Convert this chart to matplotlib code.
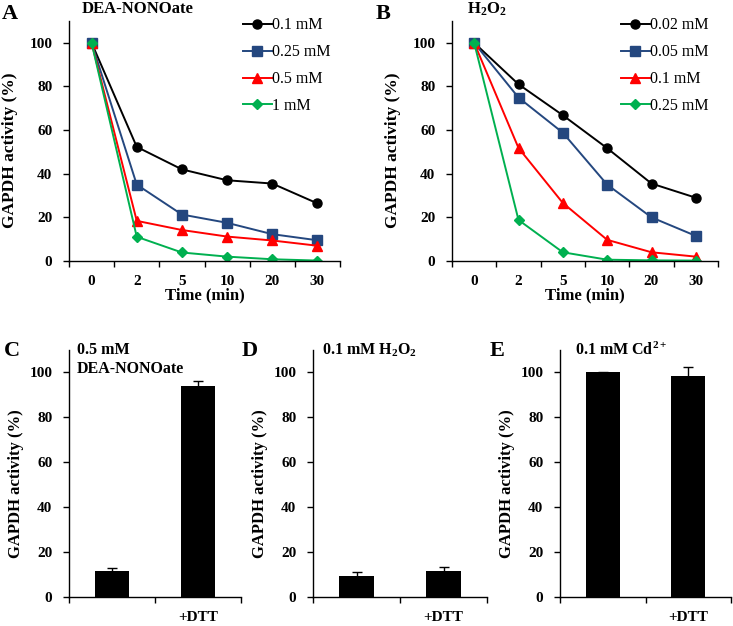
import numpy as np
import matplotlib
matplotlib.use("Agg")
import matplotlib.pyplot as plt

plt.rcParams['font.family'] = 'Liberation Serif'
plt.rcParams['font.weight'] = 'bold'
plt.rcParams['mathtext.fontset'] = 'custom'
plt.rcParams['mathtext.rm'] = 'Liberation Serif:bold'
plt.rcParams['mathtext.it'] = 'Liberation Serif:bold'
plt.rcParams['mathtext.bf'] = 'Liberation Serif:bold'
plt.rcParams['mathtext.default'] = 'rm'

# time course data
time_labels = ['0', '2', '5', '10', '20', '30']

nono_labels = ['0.1 mM', '0.25 mM', '0.5 mM', '1 mM']
nono_01 = [100, 52.3, 42.0, 37.0, 35.5, 26.4]
nono_025 = [100, 35.0, 21.3, 17.5, 12.3, 9.5]
nono_05 = [100, 18.4, 14.2, 11.2, 9.4, 7.0]
nono_1 = [100, 11.1, 3.9, 2.0, 0.8, 0.2]

h2o2_labels = ['0.02 mM', '0.05 mM', '0.1 mM', '0.25 mM']
h2o2_002 = [100, 81.0, 66.8, 51.7, 35.5, 29.0]
h2o2_005 = [100, 74.9, 58.8, 35.0, 20.0, 11.5]
h2o2_01 = [100, 51.8, 26.6, 9.7, 4.0, 2.0]
h2o2_025 = [100, 18.8, 4.0, 0.6, 0.3, 0.2]

# DTT rescue bars
bar_labels = ['', '+DTT']
nono_bar = [11.5, 94.0]
nono_err = [1.6, 2.2]
h2o2_bar = [9.5, 11.4]
h2o2_err = [1.6, 1.8]
cd_bar = [100.0, 98.6]
cd_err = [0.4, 3.8]

colors = ['black', '#24477f', '#ff0000', '#00b050']
markers = ['o', 's', '^', 'D']
msizes = [6.5, 6.5, 7.5, 5.5]

W, H = 733, 626
fig = plt.figure(figsize=(W / 100, H / 100), dpi=100)


def px_axes(l, t, r, b):
    return fig.add_axes([l / W, 1 - b / H, (r - l) / W, (b - t) / H])


def style(ax):
    ax.spines['top'].set_visible(False)
    ax.spines['right'].set_visible(False)
    ax.spines['left'].set_linewidth(1.0)
    ax.spines['bottom'].set_linewidth(1.0)
    ax.set_ylim(0, 110)
    ax.set_yticks(range(0, 101, 20))
    ax.tick_params(axis='y', direction='out', length=4, width=1, labelsize=11, pad=8)
    ax.tick_params(axis='x', which='major', direction='out', length=4, width=1, labelbottom=False)
    ax.tick_params(axis='x', which='minor', length=0, labelsize=11, pad=10)
    for lab in ax.get_yticklabels():
        lab.set_fontweight('bold')


def line_panel(ax, series, labels, letter, title, title_x, letter_x):
    x = np.arange(len(time_labels))
    for s, lab, c, m, ms in zip(series, labels, colors, markers, msizes):
        ax.plot(x, s, color=c, marker=m, markersize=ms, lw=1.4, label=lab)
    style(ax)
    ax.set_xlim(-0.5, len(time_labels) - 0.5)
    ax.set_xticks(np.arange(len(time_labels) + 1) - 0.5)
    ax.set_xticks(x, minor=True)
    ax.set_xticklabels(time_labels, minor=True, fontweight='bold')
    ax.tick_params(axis='x', which='minor', pad=10)
    ax.set_xlabel('Time (min)', fontsize=12, fontweight='bold', labelpad=0)
    ax.set_ylabel('GAPDH activity (%)', fontsize=12.5, fontweight='bold')
    wpx = ax.get_position().width * W
    ax.yaxis.set_label_coords(-51 / wpx, 0.46)
    ax.legend(loc='upper right', bbox_to_anchor=(1.02, 1.075), frameon=False,
              handlelength=1.8, handletextpad=0.05, labelspacing=0.68,
              prop={'family': 'Liberation Serif', 'weight': 'normal', 'size': 11.5})
    fig.text(letter_x / W, 1 - 4 / H, letter, fontsize=16, fontweight='bold', va='top', ha='left')
    fig.text(title_x / W, 1 - 1 / H, title, fontsize=12, fontweight='bold', va='top', ha='left')


def bar_panel(ax, vals, errs, letter, title, title_x, letter_x):
    x = np.arange(len(bar_labels))
    ax.bar(x, vals, width=0.4, color='black', yerr=errs,
           error_kw=dict(ecolor='black', capsize=3.5, elinewidth=1, capthick=1))
    style(ax)
    ax.set_xlim(-0.5, len(bar_labels) - 0.5)
    ax.set_xticks(np.arange(len(bar_labels) + 1) - 0.5)
    ax.set_xticks(x, minor=True)
    ax.set_xticklabels(bar_labels, minor=True, fontweight='bold')
    ax.set_ylabel('GAPDH activity (%)', fontsize=12, fontweight='bold')
    wpx = ax.get_position().width * W
    ax.yaxis.set_label_coords(-45 / wpx, 0.46)
    fig.text(letter_x / W, 1 - 341 / H, letter, fontsize=16, fontweight='bold', va='top', ha='left')
    fig.text(title_x / W, 1 - 342 / H, title, fontsize=11.5, fontweight='bold',
             va='top', ha='left', linespacing=1.25)


axA = px_axes(69, 21, 340, 261)
line_panel(axA, [nono_01, nono_025, nono_05, nono_1], nono_labels, 'A', 'DEA-NONOate', 82, 2)
axB = px_axes(452, 21, 718, 261)
line_panel(axB, [h2o2_002, h2o2_005, h2o2_01, h2o2_025], h2o2_labels, 'B',
           r'H$_2$O$_2$', 467, 376)

axC = px_axes(69, 350, 241, 597)
bar_panel(axC, nono_bar, nono_err, 'C', '0.5 mM\nDEA-NONOate', 77, 4)
axD = px_axes(313, 350, 487, 597)
bar_panel(axD, h2o2_bar, h2o2_err, 'D', r'0.1 mM H$_2$O$_2$', 322, 242)
axE = px_axes(560, 350, 731, 597)
bar_panel(axE, cd_bar, cd_err, 'E', r'0.1 mM Cd$^{2+}$', 575, 490)

fig.savefig('out.png', dpi=100)
